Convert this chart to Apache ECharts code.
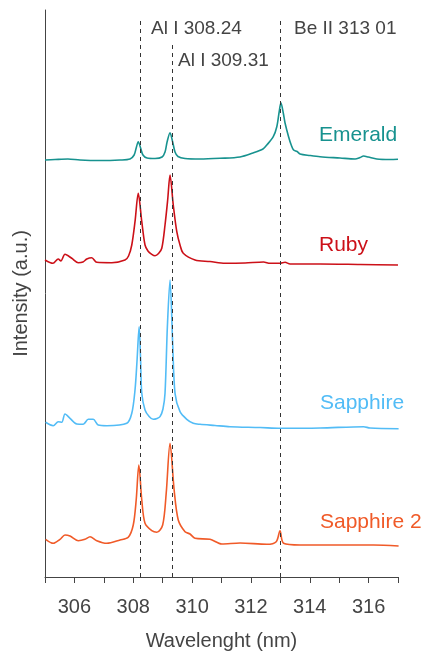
<!DOCTYPE html>
<html>
<head>
<meta charset="utf-8">
<script src="https://cdn.jsdelivr.net/npm/echarts@6/dist/echarts.min.js"></script>
<style>html,body{margin:0;padding:0;background:#fff}#c{width:428px;height:652px}</style>
</head>
<body>
<div id="c"></div>
<script>
// Wavelength (nm) and stacked intensity (offset, a.u.)
const emeraldX = [305.00,305.34,305.78,306.19,306.87,307.55,307.89,308.03,308.10,308.17,308.25,308.33,308.47,308.74,308.98,309.08,309.15,309.25,309.34,309.42,309.52,309.76,310.27,310.95,311.63,312.07,312.41,312.54,312.76,312.88,312.96,313.02,313.10,313.16,313.28,313.37,313.45,313.57,313.67,314.01,314.35,315.03,315.54,315.71,315.83,315.99,316.28,316.73,317.00];
const emeraldY = [417,417.5,418,417,416.5,417,418,422,429,435.3,429,422,419,418.5,420,425,435,444.3,435,425,420.5,418.5,418,418.7,420,424,428,432,440.3,450.3,465,474.3,464,454,440.3,432,427,425.5,423,421.5,420.3,419,418,419.5,421,420,418,417.5,417.7];

const rubyX = [305.00,305.27,305.45,305.54,305.68,305.91,306.13,306.29,306.42,306.59,306.76,307.27,307.72,307.84,307.95,308.06,308.17,308.29,308.40,308.50,308.63,308.74,308.86,308.97,309.08,309.17,309.25,309.36,309.48,309.59,309.70,310.10,310.61,311.12,311.80,312.43,312.65,312.99,313.16,313.33,314.35,315.71,317.00];
const rubyY = [317,313.7,318,316,322.7,318.7,314.3,315,318,319.3,314.7,314.3,317,321,332,355.3,383.7,355.3,332,326,322.7,321.3,323.5,328.7,352,377,402,372,345.3,332,323.7,317,315.5,313.7,314,315,313.7,313.7,314.7,313,313,312.5,312];

const sapphireX = [305.02,305.28,305.45,305.57,305.68,305.85,306.08,306.30,306.47,306.64,306.81,307.10,307.78,307.95,308.06,308.13,308.20,308.25,308.29,308.40,308.54,308.68,308.81,308.91,309.01,309.08,309.16,309.25,309.34,309.42,309.59,309.82,310.04,310.27,310.78,311.29,312.31,313.00,314.35,315.83,316.05,317.02];
const sapphireY = [154.7,151.3,155.3,154.7,163,158.7,153,152.7,157.7,157.7,152,151.3,153.7,163.7,187,217,250.3,217,183.7,167,160.5,157.7,158.5,160.3,168,183.7,250.3,297,233.7,183.7,165.3,157.7,153.7,152.7,151.5,150.3,149.5,148.7,149,150.3,149,148.3];

const sapphire2X = [305.02,305.28,305.51,305.68,305.85,306.13,306.36,306.53,306.76,307.10,307.55,307.83,308.00,308.10,308.19,308.29,308.40,308.63,308.80,309.00,309.12,309.25,309.39,309.53,309.76,309.93,310.10,310.61,311.01,311.63,312.54,312.86,312.99,313.11,313.67,315.03,316.17,317.02];
const sapphire2Y = [37.7,33.7,37.7,42,41,36.3,37.7,40.3,36.3,33.7,37,39.7,52,77,112,77,53.7,46.3,44.7,52,83.7,133.7,87,57,45.3,43,38.7,37.7,33,34,32.7,35.3,46.3,33.7,32,32,32,31];

const seriesNames = ['Emerald','Ruby','Sapphire','Sapphire 2'];
const lineWavelengths = [308.24, 309.31, 313.01];
const lineLabels = ['Al I 308.24', 'Al I 309.31', 'Be II 313 01'];
const lineTops = [557, 534, 557];
const xTicks = [306, 308, 310, 312, 314, 316];

const colors = ['#17928f', '#cc1018', '#52bcf6', '#f05a28'];
const xs = [emeraldX, rubyX, sapphireX, sapphire2X];
const ys = [emeraldY, rubyY, sapphireY, sapphire2Y];

const FONT = 'Liberation Sans, Arial, sans-serif';
const chart = echarts.init(document.getElementById('c'), null, {renderer: 'canvas'});

const series = seriesNames.map((n, i) => ({
  name: n,
  type: 'line',
  data: xs[i].map((x, j) => [x, ys[i][j]]),
  showSymbol: false,
  smooth: 0.3,
  lineStyle: {color: colors[i], width: 1.6},
  itemStyle: {color: colors[i]},
  z: 3
}));

series.push({
  type: 'line',
  data: [],
  markLine: {
    silent: true,
    symbol: 'none',
    label: {show: false},
    lineStyle: {color: '#333', type: [4, 4], width: 1},
    data: lineWavelengths.map((w, i) => [{coord: [w, 0]}, {coord: [w, lineTops[i]]}])
  },
  z: 2
});

const graphics = [
  {type: 'text', left: 151, top: 19, style: {text: lineLabels[0], font: '19px ' + FONT, fill: '#444'}},
  {type: 'text', left: 178, top: 51, style: {text: lineLabels[1], font: '19px ' + FONT, fill: '#444'}},
  {type: 'text', left: 294, top: 19, style: {text: lineLabels[2], font: '19px ' + FONT, fill: '#444'}},
  {type: 'text', left: 319, top: 125, style: {text: seriesNames[0], font: '21px ' + FONT, fill: colors[0]}},
  {type: 'text', left: 319, top: 235, style: {text: seriesNames[1], font: '21px ' + FONT, fill: colors[1]}},
  {type: 'text', left: 320, top: 393, style: {text: seriesNames[2], font: '21px ' + FONT, fill: colors[2]}},
  {type: 'text', left: 320, top: 512, style: {text: seriesNames[3], font: '21px ' + FONT, fill: colors[3]}}
];

chart.setOption({
  animation: false,
  grid: {left: 45, right: 30, top: 10, bottom: 75, containLabel: false, outerBoundsMode: 'none'},
  xAxis: {
    type: 'value', min: 305, max: 317, interval: 1,
    name: 'Wavelenght (nm)', nameLocation: 'middle', nameGap: 54,
    nameTextStyle: {fontSize: 20, color: '#444', fontFamily: FONT},
    axisLine: {lineStyle: {color: '#444', width: 1}},
    axisTick: {show: true, length: 6, lineStyle: {color: '#444'}},
    axisLabel: {fontSize: 20, color: '#444', fontFamily: FONT, margin: 20,
      formatter: v => xTicks.indexOf(v) >= 0 ? String(v) : ''},
    splitLine: {show: false}
  },
  yAxis: {
    type: 'value', min: 0, max: 567,
    name: 'Intensity (a.u.)', nameLocation: 'middle', nameGap: 14,
    nameTextStyle: {fontSize: 20, color: '#444', fontFamily: FONT},
    axisLine: {show: true, lineStyle: {color: '#444', width: 1}},
    axisTick: {show: false}, axisLabel: {show: false}, splitLine: {show: false}
  },
  series: series,
  graphic: graphics
});
</script>
</body>
</html>
